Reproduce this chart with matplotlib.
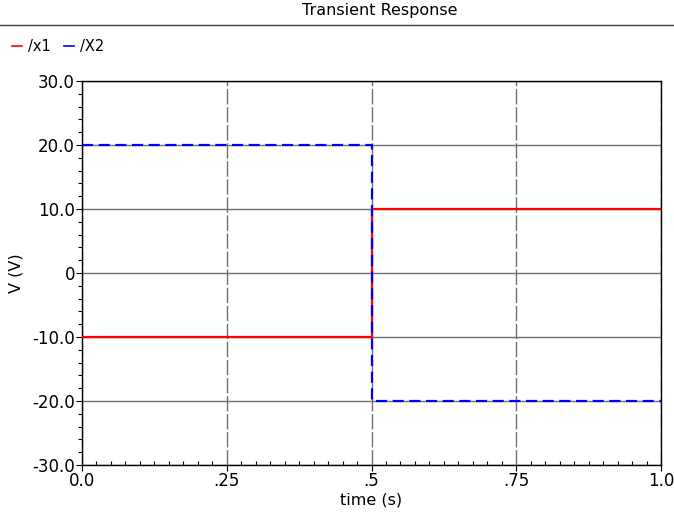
import matplotlib
matplotlib.use('Agg')
import matplotlib.pyplot as plt
from matplotlib.ticker import MultipleLocator
from matplotlib.lines import Line2D

# step data
time = [0.0, 0.5, 0.5, 1.0]
x1 = [-10.0, -10.0, 10.0, 10.0]
x2 = [20.0, 20.0, -20.0, -20.0]
xticks = [0.0, 0.25, 0.5, 0.75, 1.0]
xlabels = ['0.0', '.25', '.5', '.75', '1.0']
yticks = [-30, -20, -10, 0, 10, 20, 30]
ylabels = ['-30.0', '-20.0', '-10.0', '0', '10.0', '20.0', '30.0']

plt.rcParams['font.family'] = 'DejaVu Sans'
fig = plt.figure(figsize=(6.74, 5.2), dpi=100)
ax = fig.add_axes([82 / 674, 1 - 465 / 520, (661 - 82) / 674, (465 - 81) / 520])

ax.plot(time, x1, color='#ff0000', lw=1.6, zorder=3)
ax.plot(time, x2, color='#0000ff', lw=1.6, ls=(0, (5, 2.5)), zorder=4)

ax.set_xlim(0, 1)
ax.set_ylim(-30, 30)
ax.set_xticks(xticks)
ax.set_xticklabels(xlabels)
ax.set_yticks(yticks)
ax.set_yticklabels(ylabels)
ax.xaxis.set_minor_locator(MultipleLocator(0.025))
ax.yaxis.set_minor_locator(MultipleLocator(2))
ax.tick_params(which='major', direction='out', length=4, width=0.8, labelsize=12, pad=1)
ax.tick_params(axis='x', which='minor', direction='in', length=3, width=0.8)
ax.tick_params(axis='y', which='minor', direction='out', length=3, width=0.8)

ax.grid(True, axis='y', which='major', color='#707070', lw=1)
ax.grid(True, axis='x', which='major', color='#707070', lw=1, ls=(0, (11, 2)))
ax.set_axisbelow(True)
for s in ax.spines.values():
    s.set_color('black')
    s.set_linewidth(1)

ax.set_xlabel('time (s)', fontsize=11.5, labelpad=2)
ax.set_ylabel('V (V)', fontsize=11.5, labelpad=6)

# title with rule underneath
fig.text(380 / 674, 1 - 11 / 520, 'Transient Response', ha='center', va='center', fontsize=11.5)
fig.add_artist(Line2D([0, 1], [1 - 25 / 520, 1 - 25 / 520], color='#404040', lw=1))

handles = [Line2D([], [], color='#ff0000', lw=1.2), Line2D([], [], color='#0000ff', lw=1.2)]
fig.legend(handles, ['/x1', '/X2'], loc='center left', bbox_to_anchor=(0.0, 1 - 47 / 520),
           ncol=2, frameon=False, fontsize=10.5, handlelength=0.7, handletextpad=0.4,
           columnspacing=0.9, borderpad=0.3)

fig.savefig('out.png', dpi=100)
